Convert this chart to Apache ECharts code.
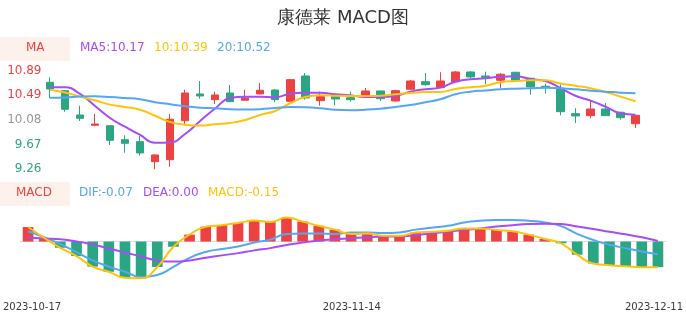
<!DOCTYPE html>
<html>
<head>
<meta charset="utf-8">
<script src="https://cdn.jsdelivr.net/npm/echarts@6/dist/echarts.min.js"></script>
<style>html,body{margin:0;padding:0;background:#fff}#c{width:686px;height:320px}</style>
</head>
<body>
<div id="c"></div>
<script>
const chartTitle = '康德莱 MACD图';
const dates = ['2023-10-17','2023-10-18','2023-10-19','2023-10-20','2023-10-23','2023-10-24','2023-10-25','2023-10-26','2023-10-27','2023-10-30','2023-10-31',
  '2023-11-01','2023-11-02','2023-11-03','2023-11-06','2023-11-07','2023-11-08','2023-11-09','2023-11-10','2023-11-13','2023-11-14','2023-11-15','2023-11-16','2023-11-17',
  '2023-11-20','2023-11-21','2023-11-22','2023-11-23','2023-11-24','2023-11-27','2023-11-28','2023-11-29','2023-11-30',
  '2023-12-01','2023-12-04','2023-12-05','2023-12-06','2023-12-07','2023-12-08','2023-12-11'];
const opens  = [10.706,10.567,10.162,9.991,9.984,9.751,9.718,9.385,9.418,10.067,10.512,10.417,10.528,10.407,10.512,10.578,10.390,10.811,10.400,10.467,
  10.450,10.495,10.562,10.395,10.590,10.716,10.617,10.716,10.878,10.811,10.740,10.873,10.773,10.640,10.607,10.184,10.151,10.262,10.207,10.017];
const closes = [10.595,10.257,10.107,10.012,9.741,9.691,9.530,9.497,10.091,10.528,10.478,10.495,10.384,10.445,10.573,10.417,10.750,10.445,10.467,10.428,
  10.417,10.562,10.433,10.567,10.728,10.666,10.728,10.878,10.795,10.790,10.840,10.740,10.628,10.628,10.217,10.146,10.262,10.151,10.117,10.157];
const lows   = [10.440,10.217,10.062,9.974,9.663,9.535,9.485,9.258,9.302,10.012,10.433,10.345,10.374,10.407,10.507,10.374,10.384,10.417,10.317,10.324,
  10.384,10.483,10.395,10.384,10.578,10.650,10.607,10.716,10.773,10.673,10.612,10.740,10.500,10.517,10.157,10.029,10.107,10.151,10.084,9.946];
const highs  = [10.790,10.567,10.317,10.179,9.984,9.824,9.813,9.508,10.179,10.583,10.728,10.550,10.661,10.583,10.695,10.595,10.761,10.861,10.550,10.495,
  10.550,10.612,10.562,10.583,10.745,10.861,10.873,10.894,10.894,10.883,10.861,10.878,10.783,10.683,10.673,10.274,10.412,10.362,10.217,10.157];
const ma5  = [10.623,10.623,10.512,10.312,10.112,9.967,9.829,9.701,9.705,9.846,10.062,10.270,10.445,10.467,10.467,10.457,10.517,10.532,10.533,10.507,
  10.490,10.462,10.462,10.478,10.550,10.590,10.617,10.716,10.756,10.773,10.800,10.806,10.761,10.728,10.612,10.482,10.400,10.300,10.190,10.167];
const ma10 = [10.583,10.537,10.467,10.407,10.334,10.295,10.250,10.149,10.046,10.001,9.987,10.009,10.029,10.079,10.162,10.229,10.357,10.462,10.490,10.483,
  10.478,10.478,10.483,10.507,10.528,10.545,10.545,10.595,10.623,10.650,10.706,10.728,10.740,10.740,10.685,10.648,10.607,10.545,10.467,10.390];
const ma20 = [10.450,10.453,10.470,10.472,10.462,10.445,10.425,10.375,10.340,10.309,10.284,10.274,10.257,10.254,10.259,10.279,10.295,10.290,10.274,10.250,
  10.242,10.250,10.267,10.295,10.329,10.374,10.423,10.507,10.550,10.570,10.590,10.600,10.607,10.617,10.607,10.590,10.567,10.550,10.533,10.523];
const dif  = [0.060,0.025,-0.015,-0.061,-0.109,-0.145,-0.175,-0.206,-0.194,-0.147,-0.094,-0.060,-0.043,-0.029,-0.006,0.011,0.044,0.046,0.046,0.044,
  0.053,0.053,0.050,0.053,0.069,0.080,0.091,0.110,0.120,0.124,0.124,0.120,0.110,0.089,0.044,0.009,-0.019,-0.038,-0.057,-0.074];
const dea  = [0.023,0.017,0.013,0.001,-0.017,-0.040,-0.063,-0.087,-0.109,-0.116,-0.109,-0.094,-0.080,-0.067,-0.051,-0.038,-0.020,-0.006,0.006,0.013,
  0.019,0.025,0.029,0.030,0.038,0.047,0.057,0.067,0.076,0.087,0.095,0.101,0.103,0.101,0.087,0.073,0.057,0.042,0.025,0.003];
const macd = [0.084,0.021,-0.036,-0.084,-0.145,-0.175,-0.210,-0.213,-0.147,-0.030,0.040,0.086,0.095,0.107,0.122,0.113,0.139,0.116,0.091,0.069,
  0.044,0.047,0.033,0.033,0.053,0.057,0.063,0.076,0.076,0.067,0.059,0.040,0.015,-0.010,-0.076,-0.127,-0.137,-0.143,-0.149,-0.148];
const priceTicks = [9.26, 9.67, 10.08, 10.49, 10.89];
const basePrice = 10.08;
const xLabelIndices = [0, 20, 39];

const FONT = 'DejaVu Sans';
const RED = '#ec4242', GREEN = '#2aa683', GRAY = '#999999';
const PURPLE = '#a64cf8', YELLOW = '#ffc30a', BLUE = '#56a6f3';
const last = a => a[a.length - 1];
const f2 = v => v.toFixed(2);

const chart = echarts.init(document.getElementById('c'), null, {renderer: 'canvas'});
const candleData = opens.map((o, i) => [o, closes[i], lows[i], highs[i]]);

function lineSeries(name, data, color, xi, yi) {
  return {name, type: 'line', data, xAxisIndex: xi, yAxisIndex: yi, smooth: true, showSymbol: false,
    symbol: 'none', lineStyle: {width: 2, color}, itemStyle: {color}, z: 3, silent: true};
}
function legendText(x, y, text, color) {
  return {type: 'text', left: x, top: y, style: {text, fill: color, fontSize: 12, fontFamily: FONT}};
}

chart.setOption({
  animation: false,
  backgroundColor: '#fff',
  textStyle: {fontFamily: FONT},
  title: {text: chartTitle, left: 'center', top: 4, textStyle: {fontSize: 18, fontWeight: 'normal', color: '#333', fontFamily: FONT}},
  grid: [
    {left: 42.5, right: 43, top: 71, height: 98.3},
    {left: 20, right: 20, top: 206, height: 79},
    {left: 0, right: 0, top: 288, height: 6}
  ],
  xAxis: [
    {type: 'category', gridIndex: 0, data: dates, boundaryGap: true, axisLine: {show: false}, axisTick: {show: false}, axisLabel: {show: false}, splitLine: {show: false}},
    {type: 'category', gridIndex: 1, data: dates, boundaryGap: true, axisLine: {show: true, onZero: true, lineStyle: {color: '#dddddd', width: 1}}, axisTick: {show: false}, axisLabel: {show: false}, splitLine: {show: false}},
    {type: 'category', gridIndex: 2, data: dates, boundaryGap: false, position: 'bottom', axisLine: {show: false}, axisTick: {show: false}, splitLine: {show: false},
      axisLabel: {show: true, fontSize: 10, fontFamily: FONT, color: '#3a3a3a', margin: 8, alignMinLabel: 'left', alignMaxLabel: 'right',
        interval: (idx) => xLabelIndices.indexOf(idx) >= 0}}
  ],
  yAxis: [
    {type: 'value', gridIndex: 0, scale: true, min: 'dataMin', max: 'dataMax', splitLine: {show: false}, axisLine: {show: false}, axisTick: {show: false},
      axisLabel: {show: true, fontSize: 12, fontFamily: FONT, margin: 1, customValues: priceTicks, formatter: v => f2(v),
        color: v => (Math.abs(v - basePrice) < 0.005 ? GRAY : (v > basePrice ? RED : GREEN))}},
    {type: 'value', gridIndex: 1, min: -0.2514, max: 0.2057, splitLine: {show: false}, axisLine: {show: false}, axisTick: {show: false}, axisLabel: {show: false}},
    {type: 'value', gridIndex: 2, show: false}
  ],
  series: [
    {name: 'K', type: 'candlestick', xAxisIndex: 0, yAxisIndex: 0, data: candleData, barWidth: '54%',
      itemStyle: {color: RED, color0: GREEN, borderColor: RED, borderColor0: GREEN, borderWidth: 1}},
    lineSeries('MA5', ma5, PURPLE, 0, 0),
    lineSeries('MA10', ma10, YELLOW, 0, 0),
    lineSeries('MA20', ma20, BLUE, 0, 0),
    {name: 'MACDbar', type: 'bar', xAxisIndex: 1, yAxisIndex: 1, data: macd, barWidth: '66%',
      itemStyle: {color: p => (p.value >= 0 ? RED : GREEN)}},
    lineSeries('DIF', dif, BLUE, 1, 1),
    lineSeries('DEA', dea, PURPLE, 1, 1),
    lineSeries('MACD', macd, YELLOW, 1, 1)
  ],
  graphic: [
    {type: 'rect', left: 0, top: 37, shape: {width: 70, height: 24}, style: {fill: '#fdf1ec'}},
    {type: 'text', left: 26, top: 42, style: {text: 'MA', fill: RED, fontSize: 12, fontFamily: FONT}},
    legendText(80, 42, 'MA5:' + f2(last(ma5)), PURPLE),
    legendText(154, 42, '10:' + f2(last(ma10)), YELLOW),
    legendText(217, 42, '20:' + f2(last(ma20)), BLUE),
    {type: 'rect', left: 0, top: 182, shape: {width: 70, height: 24}, style: {fill: '#fdf1ec'}},
    {type: 'text', left: 16, top: 187, style: {text: 'MACD', fill: RED, fontSize: 12, fontFamily: FONT}},
    legendText(79, 187, 'DIF:' + f2(last(dif)), BLUE),
    legendText(143, 187, 'DEA:' + f2(last(dea)), PURPLE),
    legendText(208, 187, 'MACD:' + f2(last(macd)), YELLOW)
  ]
});
</script>
</body>
</html>
